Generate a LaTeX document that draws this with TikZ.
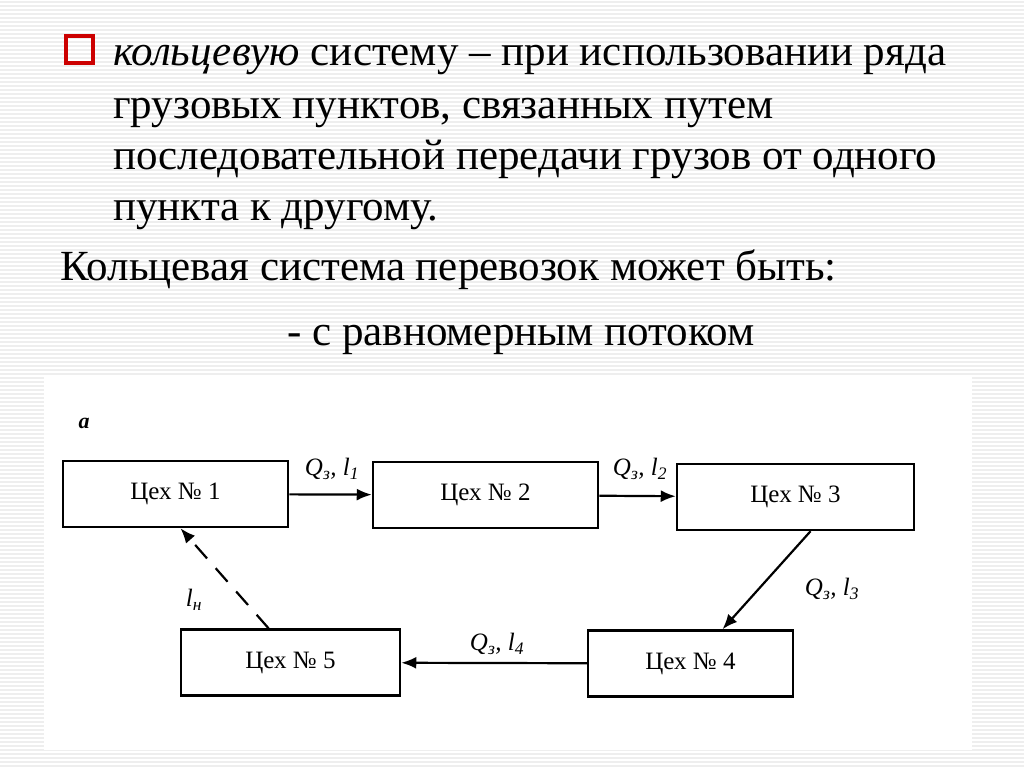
\documentclass[tikz,border=0pt]{standalone}
\usepackage{fontspec}
\setmainfont{Liberation Serif}
\usetikzlibrary{arrows.meta, positioning}

\definecolor{bulletred}{RGB}{204,0,0}

\begin{document}
\begin{tikzpicture}[x=1pt, y=-1pt,
    shop/.style={draw, line width=2.5pt, minimum height=66pt, inner sep=0pt, font=\fontsize{25}{27}\selectfont},
    flow/.style={line width=2.2pt, -{Latex[length=15pt, width=12pt]}},
    back/.style={line width=2.2pt, dash pattern=on 18pt off 13pt, -{Latex[length=15pt, width=12pt]}},
    lbl/.style={font=\fontsize{25}{27}\selectfont\itshape, inner sep=0pt},
    txt/.style={anchor=base west, inner sep=0pt, font=\fontsize{43}{50}\selectfont}
]
    \useasboundingbox (0,0) rectangle (1024,767);
    % slide background
    \fill[white] (0,0) rectangle (1024,767);
    \foreach \y in {2,6,...,766}
        \draw[gray!13, line width=1.3pt] (0,\y) -- (1024,\y);
    \fill[white] (44,375) rectangle (972,750);

    % text
    \draw[bulletred, line width=3.2pt] (66,36) rectangle (93,63);
    \node[txt] (t1) at (113,66) {\textit{кольцевую} систему – при использовании ряда};
    \node[txt] (t2) at (113,119) {грузовых пунктов, связанных путем};
    \node[txt] (t3) at (113,170) {последовательной передачи грузов от одного};
    \node[txt] (t4) at (113,221) {пункта к другому.};
    \node[txt] (t5) at (60,280) {Кольцевая система перевозок может быть:};
    \node[txt] (t6) at (287,345) {- с равномерным потоком};

    % diagram
    \node[lbl, font=\fontsize{22}{24}\selectfont\bfseries\itshape] (tag) at (84,423) {a};

    \node[shop, minimum width=225pt] (s1) at (175.5,494) {Цех № 1};
    \node[shop, minimum width=225pt] (s2) at (485.5,495) {Цех № 2};
    \node[shop, minimum width=237pt] (s3) at (795.5,497) {Цех № 3};
    \node[shop, minimum width=205pt] (s4) at (690.5,663.5) {Цех № 4};
    \node[shop, minimum width=219pt] (s5) at (290.5,662.5) {Цех № 5};

    \draw[flow] (s1) -- (s2);
    \draw[flow] (s2) -- (s3);
    \draw[flow] ([xshift=15pt]s3.south) -- ([xshift=32pt]s4.north);
    \draw[flow] (s4) -- (s5);
    \draw[back] ([xshift=-22pt]s5.north) -- ([xshift=5pt]s1.south);

    \node[lbl] (q1) at (332,469) {\textit{Q}\textsubscript{з}, \textit{l}\textsubscript{1}};
    \node[lbl] (q2) at (640,469) {\textit{Q}\textsubscript{з}, \textit{l}\textsubscript{2}};
    \node[lbl] (q3) at (832,589) {\textit{Q}\textsubscript{з}, \textit{l}\textsubscript{3}};
    \node[lbl] (q4) at (497,644) {\textit{Q}\textsubscript{з}, \textit{l}\textsubscript{4}};
    \node[lbl] (qn) at (194,600) {\textit{l}\textsubscript{н}};
\end{tikzpicture}
\end{document}
